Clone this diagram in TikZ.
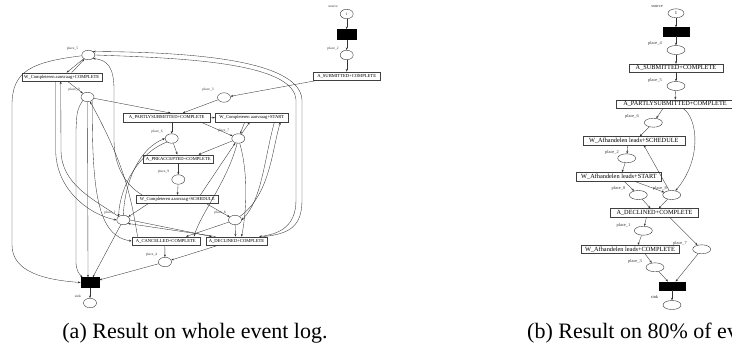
\documentclass[tikz,border=0pt]{standalone}
\usepackage{fontspec}
\setmainfont{Liberation Serif}
\usetikzlibrary{shapes.geometric,arrows.meta,calc}
\begin{document}
\begin{tikzpicture}[x=1pt,y=-1pt,
  pl/.style={draw=black!80, line width=0.4pt, ellipse, minimum width=13pt, minimum height=9.5pt, inner sep=0pt, font=\fontsize{3.6}{4}\selectfont},
  plb/.style={draw=black!80, line width=0.4pt, ellipse, minimum width=18pt, minimum height=9pt, inner sep=0pt, font=\fontsize{4.5}{5}\selectfont},
  tra/.style={draw=black!75, line width=0.4pt, rectangle, inner xsep=1pt, inner ysep=0pt, minimum height=8.5pt, font=\fontsize{4.6}{5}\selectfont},
  trb/.style={draw=black!75, line width=0.4pt, rectangle, inner xsep=1pt, inner ysep=0pt, minimum height=8.5pt, font=\fontsize{6.3}{7}\selectfont},
  blk/.style={draw, fill=black, minimum width=18.5pt, minimum height=10pt, inner sep=0pt},
  blkb/.style={draw, fill=black, minimum width=26pt, minimum height=8.5pt, inner sep=0pt},
  lab/.style={font=\fontsize{3.6}{4}\selectfont, inner sep=0pt, text=black!80},
  labb/.style={font=\fontsize{4.4}{5}\selectfont, inner sep=0pt, text=black!80},
  arr/.style={-{Stealth[length=2.6pt,width=2pt]}, line width=0.35pt, draw=black!80},
  captxt/.style={font=\fontsize{22}{26}\selectfont, inner sep=0pt}
]
\useasboundingbox (0,0) rectangle (732,354);
\clip (0,0) rectangle (732,354);

% ---------------- (a) ----------------
\node[pl] (src) at (346.7,14) {1};
\node[lab] (lsrc) at (333,7) {source};
\node[blk] (t0) at (346.7,34.3) {};
\node[pl] (p2) at (346.7,55) {};
\node[lab] (lp2) at (333,48.5) {place\_2};
\node[tra, minimum width=67pt] (as) at (346.7,76) {A\_SUBMITTED+COMPLETE};
\node[pl] (p3) at (224,97.5) {};
\node[lab] (lp3) at (208,90) {place\_3};
\node[tra, minimum width=87pt] (ap) at (166.7,117.5) {A\_PARTLYSUBMITTED+COMPLETE};
\node[tra, minimum width=73pt] (ws) at (251.7,117.7) {W\_Completeren aanvraag+START};
\node[pl] (p6) at (171.7,138.5) {};
\node[lab] (lp6) at (157,131.5) {place\_6};
\node[pl] (p7) at (238.3,138.5) {};
\node[lab] (lp7) at (223.5,131) {place\_7};
\node[tra, minimum width=70pt] (apre) at (178.3,159) {A\_PREACCEPTED+COMPLETE};
\node[pl] (p9) at (178.3,179.5) {};
\node[lab] (lp9) at (163.5,172) {place\_9};
\node[tra, minimum width=82pt] (wsch) at (177.3,199.3) {W\_Completeren aanvraag+SCHEDULE};
\node[pl] (p1) at (123.3,220) {};
\node[lab] (lp1) at (110,213) {place\_1};
\node[pl] (p8) at (235,220) {};
\node[lab] (lp8) at (220,213) {place\_8};
\node[tra, minimum width=68pt] (ac) at (165.8,241) {A\_CANCELLED+COMPLETE};
\node[tra, minimum width=61pt] (ad) at (236.5,241) {A\_DECLINED+COMPLETE};
\node[pl] (p4) at (165,262) {};
\node[lab] (lp4) at (151.5,254.5) {place\_4};
\node[blk] (ts) at (90,282.5) {};
\node[pl] (sink) at (90,303) {};
\node[lab] (lsink) at (78,296) {sink};
\node[pl] (p5) at (88.3,55) {};
\node[lab] (lp5) at (72.5,48.5) {place\_5};
\node[tra, minimum width=80pt] (wc) at (61.7,77) {W\_Completeren aanvraag+COMPLETE};
\node[pl] (p0) at (87.5,97) {};
\node[lab] (lp0) at (74,90) {place\_0};

\draw[arr] (src) -- (t0);
\draw[arr] (t0) -- (p2);
\draw[arr] (p2) -- (as);
\draw[arr] ($(as.south west)+(4,0)$) -- (p3);
\draw[arr] (p3) -- ($(ap.north)+(16,0)$);
\draw[arr] (p0) -- ($(ap.north)+(4,0)$);
\draw[arr] (ap.east) -- (ws.west);
\draw[arr] ($(ap.south)+(5,0)$) -- (p6);
\draw[arr] ($(ap.south east)+(-10,0)$) -- (p7);
\draw[arr] ($(ws.south)+(-7,0)$) -- (p7);
\draw[arr] (p7) -- ($(ws.south)+(-2,0)$);
\draw[arr] (p6) -- ($(apre.north)+(-1,0)$);
\draw[arr] (p7) -- ($(apre.north east)+(-15,0)$);
\draw[arr] (apre) -- (p9);
\draw[arr] (p9) -- (wsch);
\draw[arr] ($(wsch.north east)+(-18,0)$) -- (p7);
\draw[arr] ($(wsch.south west)+(12,0)$) -- (p1);
\draw[arr] ($(wsch.south east)+(-12,0)$) -- (p8);
\draw[arr] (p1.east) -- ($(ad.north west)+(6,0)$);
\draw[arr] ($(ad.north west)+(10,0)$) -- (p1.south east);
\draw[arr] (p8) -- ($(ac.north east)+(-14,0)$);
\draw[arr] (p8) -- ($(ad.north)+(-1,0)$);
\draw[arr] (p7) .. controls (249,175) and (246,215) .. ($(ad.north)+(5,0)$);
\draw[arr] (p7) .. controls (228,180) and (200,215) .. ($(ac.north east)+(-6,0)$);
\draw[arr] ($(ac.south)+(-1,0)$) -- (p4);
\draw[arr] ($(ad.south west)+(12,0)$) -- (p4);
\draw[arr] (p4) -- (ts);
\draw[arr] (p1) -- (ts);
\draw[arr] (ts) -- (sink);
\draw[arr] (p5) .. controls (30,62) and (12,72) .. (12,105) -- (12,245) .. controls (12,272) and (45,280) .. (ts.west);
\draw[arr] ($(wc.north)+(10,0)$) -- (p5);
\draw[arr] (p5) -- ($(wc.north)+(5,0)$);
\draw[arr] ($(wc.south)+(6,0)$) -- (p0);
\draw[arr] (p5.east) .. controls (180,58) and (294,62) .. (296,100) -- (296,200) .. controls (296,226) and (280,234) .. ($(ad.north east)+(-8,0)$);
\draw[arr] ($(ad.north east)+(-4,0)$) .. controls (290,234) and (302,226) .. (302,200) -- (302,100) .. controls (300,58) and (180,52) .. (p5.north east);
\draw[arr] ($(wsch.north west)+(6,0)$) .. controls (125,185) and (114,165) .. (114,140) -- (114,90) .. controls (114,68) and (108,60) .. (p5.south east);
\draw[arr] ($(wc.south)+(-6,0)$) -- (55.7,150) .. controls (55.7,190) and (90,215) .. (p1.west);
\draw[arr] (p1.north west) .. controls (95,200) and (61,185) .. (61,150) -- ($(wc.south)+(-1,0)$);
\draw[arr] (p0.south) -- ($(ts.north)+(-2,0)$);
\draw[arr] (p0.south west) .. controls (77,110) .. (76,130) -- (76,262) .. controls (76,270) and (79,274) .. ($(ts.north west)+(2,0)$);
\draw[arr] (p0.south east) .. controls (92,190) and (97,236) .. (ac.west);
\draw[arr] ($(ac.north west)+(6,0)$) .. controls (132,205) and (128,170) .. (p0);
\draw[arr] (p1.north) .. controls (125,180) and (140,148) .. (p6.west);
\draw[arr] (p6.south west) .. controls (140,152) and (120,185) .. (p1.north west);
\draw[arr] ($(ws.south east)+(-14,0)$) .. controls (264,160) and (262,200) .. (p8.east);
\draw[arr] (p8.north east) .. controls (270,195) and (272,150) .. ($(ws.south east)+(-8,0)$);

% ---------------- (b) ----------------
\node[plb, minimum width=16pt] (srcb) at (676,13.3) {1};
\node[labb] (lsrcb) at (657,6.7) {source};
\node[blkb] (tb) at (676,31.7) {};
\node[plb] (p4b) at (676,50) {};
\node[labb] (lp4b) at (655,43.5) {place\_4};
\node[trb, minimum width=94pt] (asb) at (676,68.3) {A\_SUBMITTED+COMPLETE};
\node[plb] (p5b) at (676,86) {};
\node[labb] (lp5b) at (655,80) {place\_5};
\node[trb, minimum width=117pt] (apb) at (675,104) {A\_PARTLYSUBMITTED+COMPLETE};
\node[plb] (p6b) at (653.3,122.7) {};
\node[labb] (lp6b) at (632,116) {place\_6};
\node[trb, minimum width=102pt] (wsb) at (633.8,140.7) {W\_Afhandelen leads+SCHEDULE};
\node[plb] (p2b) at (626.7,158.3) {};
\node[labb] (lp2b) at (612,152.5) {place\_2};
\node[trb, minimum width=85pt] (wstb) at (619,176.7) {W\_Afhandelen leads+START};
\node[plb] (p0b) at (638.3,195) {};
\node[labb] (lp0b) at (618.5,188.5) {place\_0};
\node[plb] (p8b) at (671.7,195) {};
\node[labb] (lp8b) at (660,188.5) {place\_8};
\node[trb, minimum width=88pt] (adb) at (654.5,212.7) {A\_DECLINED+COMPLETE};
\node[plb] (p1b) at (643.3,230.7) {};
\node[labb] (lp1b) at (623.5,225) {place\_1};
\node[plb] (p7b) at (701.7,249.3) {};
\node[labb] (lp7b) at (680,243.3) {place\_7};
\node[trb, minimum width=98pt] (wcb) at (630,249.3) {W\_Afhandelen leads+COMPLETE};
\node[plb] (p3b) at (655,267.3) {};
\node[labb] (lp3b) at (635,261) {place\_3};
\node[blkb] (tsb) at (672,286) {};
\node[plb] (sinkb) at (672,305) {};
\node[labb] (lsinkb) at (654.5,297) {sink};

\draw[arr] (srcb) -- (tb);
\draw[arr] (tb) -- (p4b);
\draw[arr] (p4b) -- (asb);
\draw[arr] (asb) -- (p5b);
\draw[arr] (p5b) -- (apb);
\draw[arr] ($(apb.south)+(-12,0)$) -- (p6b);
\draw[arr] ($(apb.south)+(8,0)$) .. controls (698,118) and (702,160) .. (p8b);
\draw[arr] (p6b) -- ($(wsb.north)+(6,0)$);
\draw[arr] ($(wsb.south)+(-6,0)$) -- (p2b);
\draw[arr] (p8b) -- ($(wsb.south)+(10,0)$);
\draw[arr] (p2b) -- ($(wstb.north)+(3,0)$);
\draw[arr] ($(wstb.south)+(5,0)$) -- (p0b);
\draw[arr] ($(wstb.south)+(15,0)$) -- (p8b);
\draw[arr] (p0b) -- (adb);
\draw[arr] (p8b) -- (adb);
\draw[arr] ($(adb.south)+(-8,0)$) -- (p1b);
\draw[arr] ($(adb.south)+(15,0)$) -- (p7b);
\draw[arr] (p1b) -- ($(wcb.north)+(8,0)$);
\draw[arr] ($(wcb.south)+(15,0)$) -- (p3b);
\draw[arr] (p3b) -- (tsb);
\draw[arr] (p7b) -- (tsb);
\draw[arr] (tsb) -- (sinkb);

% captions
\node[captxt, anchor=base] (capa) at (195,338) {(a) Result on whole event log.};
\node[captxt, anchor=base west] (capb) at (527,338) {(b) Result on 80\% of event log.};
\end{tikzpicture}
\end{document}
